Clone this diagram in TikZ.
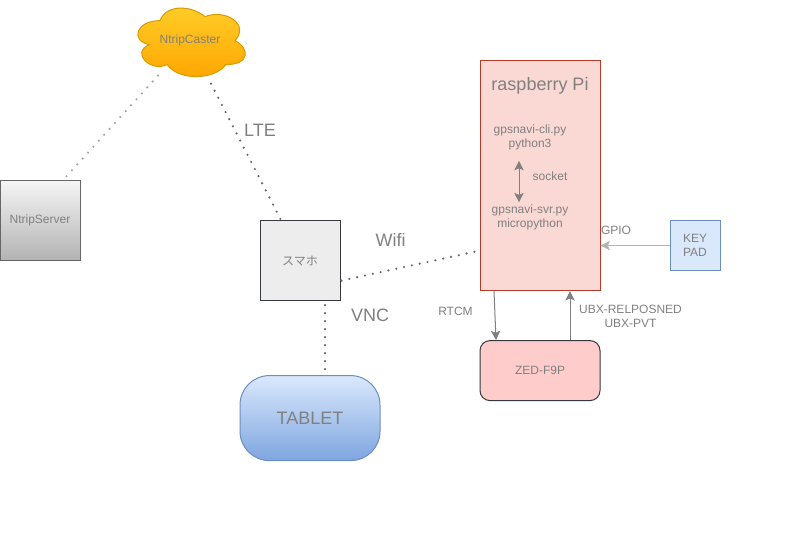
\documentclass[tikz,border=0pt]{standalone}
\usepackage{fontspec}
\setmainfont{Liberation Sans}
\newfontfamily\cjkfont{Noto Sans CJK JP}
\usetikzlibrary{arrows.meta,calc}
\definecolor{txtgray}{HTML}{808080}
\definecolor{arrgray}{HTML}{808080}
\definecolor{dotgray}{HTML}{666666}
\definecolor{pifill}{HTML}{FAD9D5}
\definecolor{pidraw}{HTML}{B83A2B}
\definecolor{bluefill}{HTML}{DAE8FC}
\definecolor{bluedraw}{HTML}{6C8EBF}
\definecolor{bluedark}{HTML}{7EA6E0}
\definecolor{darkline}{HTML}{36393D}
\definecolor{cloudtop}{HTML}{FFCD28}
\definecolor{cloudbot}{HTML}{FFA500}
\definecolor{clouddraw}{HTML}{D79B00}
\tikzset{
  boxbase/.style={inner sep=0pt, align=center, text=txtgray, font=\fontsize{9}{10.5}\selectfont, line width=0.75pt},
  devbox/.style={boxbase, draw=darkline, fill=#1},
  lbl/.style={inner sep=0pt, align=center, text=txtgray, font=\fontsize{9}{10.5}\selectfont},
  biglbl/.style={inner sep=0pt, align=center, text=txtgray, font=\fontsize{13.5}{16}\selectfont},
  linkdot/.style={draw=dotgray, line width=1.8pt, line cap=round, dash pattern=on 0pt off 6pt},
  linkfaint/.style={draw=dotgray!60, line width=1.8pt, line cap=round, dash pattern=on 0pt off 6pt},
  arr/.style={-{Stealth[length=7pt,width=7pt,inset=1.5pt]}, line width=0.75pt, color=arrgray},
  lightarr/.style={-{Stealth[length=7pt,width=7pt,inset=1.5pt]}, line width=0.75pt, color=arrgray!60}}
\begin{document}
\begin{tikzpicture}[x=0.75pt,y=-0.75pt]
  \useasboundingbox (0,-0.6) rectangle (791,540.4);
  % machines
  \draw[clouddraw, line width=0.75pt, top color=cloudtop, bottom color=cloudbot]
    (160,20) .. controls (136,20) and (130,40) .. (149.2,44)
    .. controls (130,52.8) and (151.6,72) .. (167.2,64)
    .. controls (178,80) and (214,80) .. (226,64)
    .. controls (250,64) and (250,48) .. (235,40)
    .. controls (250,24) and (226,8) .. (205,16)
    .. controls (190,4) and (166,4) .. (160,20) -- cycle;
  \node[lbl] (caster) at (190,40) {NtripCaster};
  \node[boxbase, draw=dotgray, top color=black!4, bottom color=black!30,
        minimum width=60pt, minimum height=60pt] (server) at (40,220) {NtripServer};
  \node[devbox=black!7, minimum width=60pt, minimum height=60pt] (phone) at (300,260) {\cjkfont スマホ};
  \node[boxbase, draw=bluedraw, top color=bluefill, bottom color=bluedark, rounded corners=22pt,
        font=\fontsize{13.5}{16}\selectfont, minimum width=105pt, minimum height=63.75pt] (tablet) at (310,417.5) {TABLET};
  \node[boxbase, draw=pidraw, fill=pifill, minimum width=90pt, minimum height=172.5pt] (rpi) at (540,175) {};
  \node[boxbase, draw=bluedraw, fill=bluefill, minimum width=37.5pt, minimum height=37.5pt] (keypad) at (695,245) {KEY\\PAD};
  \node[devbox=red!20, rounded corners=7.5pt, minimum width=90pt, minimum height=45pt] (zed) at (540,370) {ZED-F9P};
  % inside the Pi
  \node[inner sep=0pt, text=txtgray, font=\fontsize{13.5}{16}\selectfont] (pititle) at (540,85.5) {raspberry Pi};
  \node[lbl] (cli) at (530,136.5) {gpsnavi-cli.py\\python3};
  \node[lbl] (svr) at (530,216.5) {gpsnavi-svr.py\\micropython};
  \node[lbl] (socket) at (550,175.5) {socket};
  \draw[arr, {Stealth[length=7pt,width=7pt,inset=1.5pt]}-{Stealth[length=7pt,width=7pt,inset=1.5pt]}] ($(cli.south)+(-11,11)$) -- ($(svr.north)+(-11,-2)$);
  % wireless links
  \draw[linkfaint] ($(caster)+(-32,35)$) -- ($(server.north)+(23,0)$);
  \draw[linkdot] ($(caster)+(21,43)$) -- ($(phone.north)+(-19,0)$);
  \draw[linkdot] ($(phone.east)+(1,20)$) -- ($(rpi.west)+(-4,76)$);
  \draw[linkdot] ($(phone.south)+(25,4)$) -- ($(tablet.north)+(15,-4)$);
  % wired links
  \draw[arr] ($(rpi.south)+(-46,0)$) -- ($(zed.north)+(-44,0)$);
  \draw[arr] ($(zed.north)+(30,0)$) -- ($(rpi.south)+(30,0)$);
  \draw[lightarr] (keypad.west) -- (rpi.east |- keypad.west);
  % link names
  \node[biglbl] (lte) at (260,130) {LTE};
  \node[biglbl] (wifi) at (390.5,239.5) {Wifi};
  \node[biglbl] (vnc) at (370,315) {VNC};
  \node[lbl] (gpio) at (616,230) {GPIO};
  \node[lbl] (rtcm) at (455.5,311) {RTCM};
  \node[lbl] (ubx) at (630.5,316) {UBX-RELPOSNED\\UBX-PVT};
\end{tikzpicture}
\end{document}
